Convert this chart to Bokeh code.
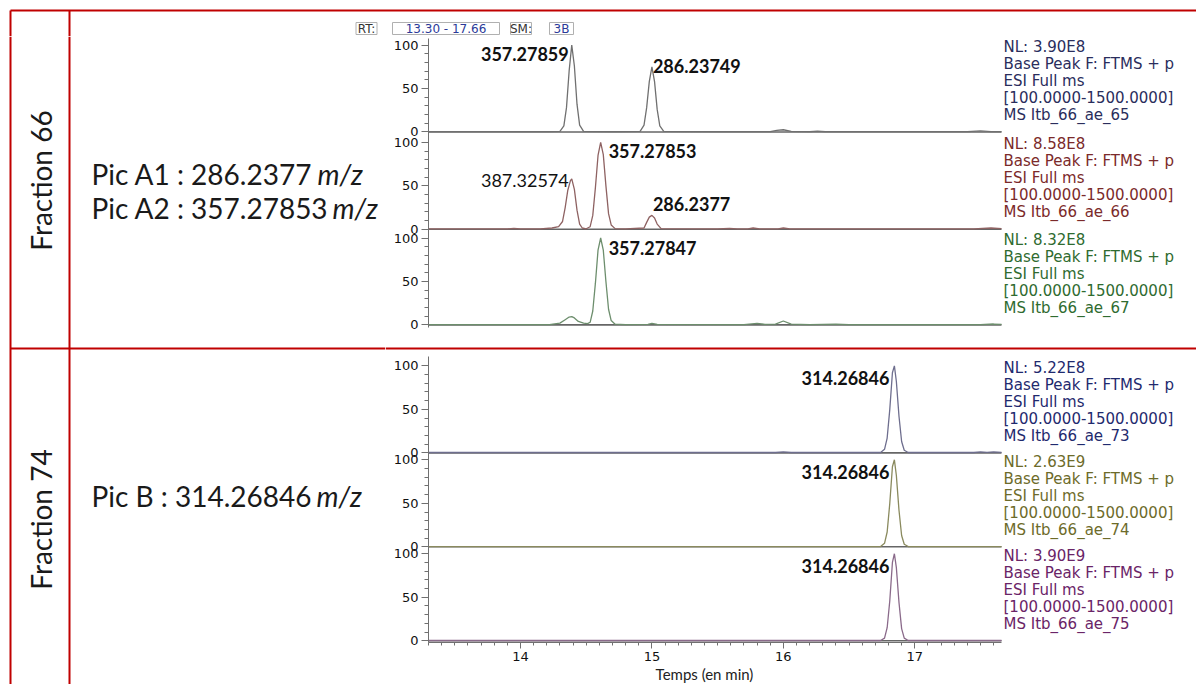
import math
from bokeh.plotting import figure
from bokeh.layouts import row, column
from bokeh.models import Range1d, FixedTicker, SingleIntervalTicker
from bokeh.embed import file_html
from bokeh.resources import INLINE
from bokeh.core.properties import value

# ===================== DATA =====================
rt_window = (13.30, 17.66)
smoothing = "3B"

t_ae65 = [13.30, 13.80, 14.20, 14.30, 14.33, 14.35, 14.37, 14.39, 14.41, 14.43, 14.45, 14.48, 14.70,
          14.91, 14.94, 14.96, 14.98, 15.00, 15.02, 15.04, 15.06, 15.09, 15.50, 15.90, 15.95, 16.00,
          16.06, 16.20, 16.26, 16.32, 16.40, 17.40, 17.50, 17.58, 17.66]
i_ae65 = [0.4, 0.4, 0.4, 0.8, 7, 28, 70, 100, 76, 32, 8, 0.8, 0.4,
          0.8, 8, 28, 58, 75, 58, 26, 7, 0.8, 0.4, 0.5, 1.8, 2.6,
          0.8, 0.5, 1.0, 0.5, 0.4, 0.4, 1.2, 0.5, 0.5]

t_ae66 = [13.30, 13.90, 13.95, 14.00, 14.15, 14.24, 14.29, 14.32, 14.34, 14.36, 14.38, 14.39, 14.41,
          14.43, 14.45, 14.47, 14.50, 14.53, 14.55, 14.57, 14.59, 14.61, 14.63, 14.65, 14.67, 14.69,
          14.72, 14.80, 14.94, 14.96, 14.98, 15.00, 15.02, 15.04, 15.07, 15.50, 15.59, 15.65, 15.73,
          15.77, 15.82, 15.96, 16.00, 16.05, 17.45, 17.58, 17.66]
i_ae66 = [0.4, 0.4, 1.0, 0.4, 0.6, 1.5, 3, 9, 25, 45, 56, 58, 46,
          22, 6, 1.5, 0.6, 3, 16, 48, 85, 100, 86, 50, 18, 5,
          0.8, 0.4, 1.5, 8, 14, 16, 13, 6, 0.8, 0.4, 1.0, 0.4, 0.6,
          1.5, 0.5, 0.6, 1.5, 0.5, 0.4, 1.5, 0.8]

t_ae67 = [13.30, 14.22, 14.30, 14.34, 14.37, 14.39, 14.41, 14.44, 14.48, 14.51, 14.53, 14.55, 14.57,
          14.59, 14.61, 14.63, 14.65, 14.67, 14.69, 14.72, 14.80, 14.97, 15.00, 15.04, 15.70, 15.80,
          15.86, 15.94, 16.00, 16.06, 16.20, 16.40, 16.50, 17.50, 17.60, 17.66]
i_ae67 = [0.4, 0.4, 2, 6, 9, 9.5, 8, 4, 2, 1.5, 3, 16, 48,
          86, 100, 86, 50, 18, 5, 0.8, 0.4, 0.5, 1.8, 0.5, 0.4, 1.8,
          0.6, 0.8, 4.5, 0.8, 0.4, 0.8, 0.4, 0.4, 1.0, 0.5]

t_ae73 = [13.30, 15.94, 16.00, 16.06, 16.74, 16.77, 16.79, 16.81, 16.83, 16.845, 16.86, 16.88, 16.90,
          16.92, 16.95, 17.45, 17.50, 17.55, 17.60, 17.66]
i_ae73 = [0.4, 0.4, 1.0, 0.4, 0.4, 4, 17, 50, 92, 100, 82, 42, 13,
          3, 0.4, 0.4, 1.2, 0.5, 1.0, 0.5]

t_ae74 = [13.30, 16.74, 16.77, 16.79, 16.81, 16.83, 16.845, 16.86, 16.88, 16.90, 16.92, 16.95, 17.66]
i_ae74 = [0.3, 0.3, 4, 17, 50, 92, 100, 82, 42, 13, 3, 0.3, 0.3]

t_ae75 = [13.30, 16.74, 16.77, 16.79, 16.81, 16.83, 16.845, 16.86, 16.88, 16.90, 16.92, 16.95, 17.66]
i_ae75 = [0.3, 0.3, 3, 15, 46, 90, 100, 84, 44, 14, 3, 0.3, 0.3]

trace_times = [t_ae65, t_ae66, t_ae67, t_ae73, t_ae74, t_ae75]
trace_ints = [i_ae65, i_ae66, i_ae67, i_ae73, i_ae74, i_ae75]

nl_values = ["NL: 3.90E8", "NL: 8.58E8", "NL: 8.32E8", "NL: 5.22E8", "NL: 2.63E9", "NL: 3.90E9"]
scan_names = ["MS Itb_66_ae_65", "MS Itb_66_ae_66", "MS Itb_66_ae_67",
              "MS Itb_66_ae_73", "MS Itb_66_ae_74", "MS Itb_66_ae_75"]
scan_filter = ["Base Peak F: FTMS + p", "ESI Full ms", "[100.0000-1500.0000]"]

peak_panel = [0, 0, 1, 1, 1, 2, 3, 4, 5]
peak_time = [14.39, 15.00, 14.61, 14.39, 15.00, 14.61, 16.845, 16.845, 16.845]
peak_level = [90, 76, 90, 56, 29, 88, 86, 86, 86]
peak_text = ["357.27859", "286.23749", "357.27853", "387.32574", "286.2377",
             "357.27847", "314.26846", "314.26846", "314.26846"]

fractions = ["Fraction 66", "Fraction 74"]
pic_names = ["Pic A1 : 286.2377", "Pic A2 : 357.27853", "Pic B : 314.26846"]
mz_unit = "m/z"
x_title = "Temps (en min)"
y_tick_values = [0, 50, 100]

# ===================== STYLE / LAYOUT =====================
RED = "#c00000"
XC_FONT = "DejaVu Sans"
PPT_FONT = "Lato"
trace_colors = ["#707070", "#8e6262", "#6d8e6d", "#6e6e8e", "#8a8a5e", "#8a6a8a"]
nl_colors = ["#2a2d5c", "#7b2a2a", "#2f6b30", "#1f2a6e", "#6d6b2a", "#6a2467"]
peak_bold = [True, True, True, False, True, True, True, True, True]
peak_side = ["right", "left", "left", "right", "left", "left", "right", "right", "right"]
peak_dx = [-3, 1, 8, -3, 1, 8, -5, -5, -5]

W, H = 1196, 684
C_X0 = 385                       # left edge of the chromatogram column
FRAME_L, FRAME_R = 428, 1001     # pixel extent of the retention-time window
C_W = W - C_X0
px_per_min = (FRAME_R - FRAME_L) / (rt_window[1] - rt_window[0])
shared_x = Range1d(rt_window[0], rt_window[0] + (W - FRAME_L) / px_per_min)
X_TITLE_POS = 15.40


def canvas(x0, x1, y0, y1):
    f = figure(width=x1 - x0, height=y1 - y0, x_range=Range1d(x0, x1),
               y_range=Range1d(-y1, -y0),
               output_backend="svg", toolbar_location=None,
               x_axis_location=None, y_axis_location=None, min_border=0)
    f.outline_line_color = None
    f.grid.visible = False
    f.background_fill_color = "white"
    f.border_fill_color = "white"
    return f


def chrom(height, mb_top, mb_bottom, y_lo, scale, panels, offsets, show_x):
    y_hi = y_lo + (height - mb_top - mb_bottom) / scale
    f = figure(width=C_W, height=height, x_range=shared_x, y_range=Range1d(y_lo, y_hi),
               output_backend="svg", toolbar_location=None,
               x_axis_location="below" if show_x else None, y_axis_location="left",
               min_border_left=FRAME_L - C_X0, min_border_right=0,
               min_border_top=mb_top, min_border_bottom=mb_bottom)
    f.outline_line_color = None
    f.grid.visible = False
    f.background_fill_color = "white"
    f.border_fill_color = "white"
    ya = f.yaxis[0]
    ya.ticker = FixedTicker(ticks=[o + v for o in offsets for v in y_tick_values],
                            minor_ticks=[o + v for o in offsets for v in range(10, 100, 10) if v != 50])
    ya.major_label_overrides = {o + v: str(v) for o in offsets for v in y_tick_values}
    ya.axis_line_color = "#707070"
    ya.major_tick_line_color = "#707070"
    ya.minor_tick_line_color = "#707070"
    ya.major_tick_out = 7
    ya.major_tick_in = 0
    ya.minor_tick_out = 4
    ya.minor_tick_in = 0
    ya.major_label_standoff = 3
    ya.major_label_text_font = XC_FONT
    ya.major_label_text_font_size = "13px"
    ya.major_label_text_color = "#111111"
    for p, o in zip(panels, offsets):
        f.segment(x0=[rt_window[0]], x1=[rt_window[1]], y0=[o], y1=[o],
                  line_color="#666666", line_width=1.6)
        f.line(x=trace_times[p], y=[v + o for v in trace_ints[p]],
               line_color=trace_colors[p], line_width=1.3)
    for k in range(len(peak_text)):
        if peak_panel[k] in panels:
            o = offsets[panels.index(peak_panel[k])]
            f.text(x=[peak_time[k]], y=[peak_level[k] + o], text=[peak_text[k]],
                   text_font=value(PPT_FONT), text_font_size="18px",
                   text_font_style="bold" if peak_bold[k] else "normal",
                   text_align=peak_side[k], text_baseline="middle", x_offset=peak_dx[k],
                   text_color="#111111")
    # instrument header block for each trace
    xs, ys, txt, col, dy = [], [], [], [], []
    for p, o in zip(panels, offsets):
        lines = [nl_values[p]] + scan_filter + [scan_names[p]]
        for j, s in enumerate(lines):
            xs.append(rt_window[1])
            ys.append(o + 100)
            txt.append(s)
            col.append(nl_colors[p])
            dy.append(2 + 17 * j)
    f.text(x=xs, y=ys, text=txt, text_color=col, y_offset=dy, x_offset=2, text_align="left",
           text_baseline="middle", text_font=value(XC_FONT), text_font_size="15px")
    if show_x:
        xa = f.xaxis[0]
        xa.bounds = rt_window
        xa.ticker = SingleIntervalTicker(interval=1, num_minor_ticks=10)
        xa.axis_line_color = "#707070"
        xa.major_tick_line_color = "#707070"
        xa.minor_tick_line_color = "#707070"
        xa.major_tick_out = 6
        xa.major_tick_in = 0
        xa.minor_tick_out = 3
        xa.minor_tick_in = 0
        xa.major_label_standoff = 3
        xa.major_label_text_font = XC_FONT
        xa.major_label_text_font_size = "13px"
        xa.major_label_text_color = "#111111"
    return f


# ---- top strip (red top line + RT header) ----
T = canvas(0, W, 0, 36)
T.segment(x0=[10, 10, 69], y0=[-10, -10, -10], x1=[W, 10, 69], y1=[-10, -36, -36],
          line_color=RED, line_width=2)
hdr_x = [366, 445.5, 520.5, 561]
hdr_w = [21, 107, 21, 24]
T.rect(x=hdr_x, y=[-28] * 4, width=hdr_w, height=[12] * 4, fill_color="white",
       line_color="#b0b0b0", line_width=1)
T.text(x=hdr_x, y=[-28] * 4,
       text=["RT:", "%.2f - %.2f" % rt_window, "SM:", smoothing],
       text_color=["#333333", "#2b3a99", "#333333", "#2b3a99"],
       text_align="center", text_baseline="middle",
       text_font=value(XC_FONT), text_font_size="12px")

# ---- left table column ----
L = canvas(0, C_X0, 36, H)
L.segment(x0=[10, 69, 10], y0=[-36, -36, -348], x1=[10, 69, C_X0], y1=[-H, -H, -348],
          line_color=RED, line_width=2)
L.text(x=[40, 40], y=[-180, -519], text=fractions, angle=math.pi / 2,
       text_align="center", text_baseline="middle", text_font=value(PPT_FONT),
       text_font_size="28px", text_color="#1a1a1a")
L.text(x=[91, 91, 91], y=[-173, -207, -495], text=pic_names, text_align="left",
       text_baseline="middle", text_font=value(PPT_FONT), text_font_size="28px",
       text_color="#1a1a1a")
L.text(x=[317, 332, 316], y=[-173, -207, -495], text=[mz_unit] * 3, text_align="left",
       text_baseline="middle", text_font=value(PPT_FONT), text_font_size="28px",
       text_font_style="italic", text_color="#1a1a1a")

# ---- fraction 66 chromatograms (ref y 36..340) ----
C1 = chrom(304, 2, 13, -3, 0.8689, [0, 1, 2], [222, 110, 0], False)

# ---- red separator strip (ref y 340..356) ----
S = canvas(C_X0, W, 340, 356)
S.segment(x0=[C_X0], y0=[-348], x1=[W], y1=[-348], line_color=RED, line_width=2)

# ---- fraction 74 chromatograms (ref y 356..666) ----
C2 = chrom(310, 0, 24, -2, 0.87, [3, 4, 5], [216, 108, 0], True)

# ---- x-axis title (ref y 666..684) ----
X = figure(width=C_W, height=18, x_range=shared_x, y_range=Range1d(0, 1),
           output_backend="svg", toolbar_location=None,
           x_axis_location=None, y_axis_location=None, min_border=0,
           min_border_left=FRAME_L - C_X0, min_border_right=0)
X.outline_line_color = None
X.grid.visible = False
X.background_fill_color = "white"
X.border_fill_color = "white"
X.text(x=[X_TITLE_POS], y=[0.56], text=[x_title], text_align="center", text_baseline="middle",
       text_font=value(PPT_FONT), text_font_size="15px", text_color="#222222")

layout = column(T, row(L, column(C1, row(S), C2, X)))

open("out.html", "w").write(file_html(layout, INLINE))
